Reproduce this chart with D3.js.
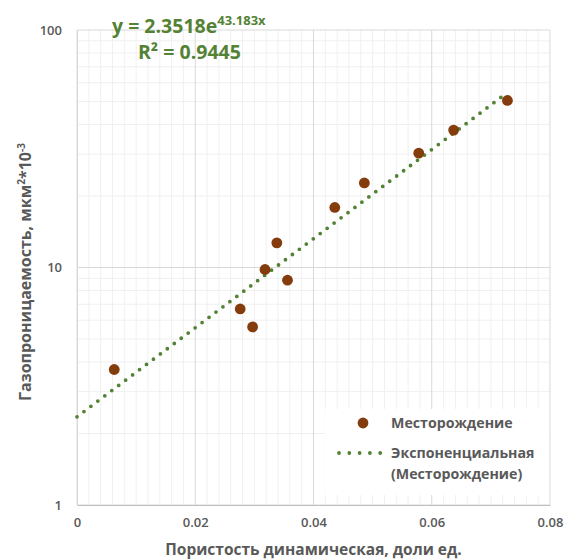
<!DOCTYPE html>
<html>
<head>
<meta charset="utf-8">
<script src="https://cdn.jsdelivr.net/npm/d3@7"></script>
<style>
  html, body { margin: 0; padding: 0; background: #fff; }
  svg { display: block; font-family: "Open Sans", "Noto Sans", sans-serif; }
</style>
</head>
<body>
<svg id="chart" width="565" height="560"></svg>
<script>
// Dynamic porosity (fraction) vs gas permeability (mkm^2 * 10^-3)
const porosity = [0.0063, 0.0276, 0.0297, 0.0318, 0.0338, 0.0356, 0.0436, 0.0486, 0.0578, 0.0637, 0.0728];
const permeability = [3.72, 6.69, 5.62, 9.81, 12.7, 8.84, 17.9, 22.7, 30.3, 37.9, 50.5];

// Exponential trend y = a * e^(b x)
const trendA = 2.3518;
const trendB = 43.183;
const rSquared = 0.9445;

const xTicks = [0, 0.02, 0.04, 0.06, 0.08];
const xTickLabels = ["0", "0.02", "0.04", "0.06", "0.08"];
const yTicks = [1, 10, 100];
const yTickLabels = ["1", "10", "100"];

const seriesName = "Месторождение";
const trendName1 = "Экспоненциальная";
const trendName2 = "(Месторождение)";
const xTitle = "Пористость динамическая, доли ед.";

const pointColor = "#843C0C";
const trendColor = "#548235";
const textGray = "#595959";

const svg = d3.select("#chart");
const margin = { left: 77, right: 15, top: 30, bottom: 55 };
const W = 565, H = 560;

const x = d3.scaleLinear().domain([0, 0.08]).range([margin.left, W - margin.right]);
const y = d3.scaleLog().domain([1, 100]).range([H - margin.bottom, margin.top]);

const grid = svg.append("g");
// minor vertical gridlines every 0.002
const xMinor = d3.range(0, 0.0801, 0.002).filter(v => Math.abs(v / 0.02 - Math.round(v / 0.02)) > 1e-6);
grid.selectAll(".xm").data(xMinor).join("line")
  .attr("x1", d => x(d)).attr("x2", d => x(d))
  .attr("y1", y(1)).attr("y2", y(100))
  .attr("stroke", "#f0f0f0").attr("stroke-width", 1);
// minor horizontal gridlines 2..9 per decade
const yMinor = [];
[1, 10].forEach(b => { for (let k = 2; k <= 9; k++) yMinor.push(b * k); });
grid.selectAll(".ym").data(yMinor).join("line")
  .attr("x1", x(0)).attr("x2", x(0.08))
  .attr("y1", d => y(d)).attr("y2", d => y(d))
  .attr("stroke", "#f0f0f0").attr("stroke-width", 1);
// major gridlines
grid.selectAll(".xM").data(xTicks).join("line")
  .attr("x1", d => x(d)).attr("x2", d => x(d))
  .attr("y1", y(1)).attr("y2", y(100))
  .attr("stroke", "#d9d9d9").attr("stroke-width", 1);
grid.selectAll(".yM").data(yTicks).join("line")
  .attr("x1", x(0)).attr("x2", x(0.08))
  .attr("y1", d => y(d)).attr("y2", d => y(d))
  .attr("stroke", "#d9d9d9").attr("stroke-width", 1);

// axes (labels only)
const xAxis = d3.axisBottom(x).tickValues(xTicks).tickFormat((d, i) => xTickLabels[i]).tickSize(0).tickPadding(13);
const gx = svg.append("g").attr("transform", `translate(0,${y(1)})`).call(xAxis);
gx.select(".domain").attr("stroke", "#bfbfbf");
gx.selectAll("text").attr("fill", textGray).attr("font-size", 13).attr("font-family", "Open Sans").attr("font-weight", 600);

const yAxis = d3.axisLeft(y).tickValues(yTicks).tickFormat((d, i) => yTickLabels[i]).tickSize(0).tickPadding(15);
const gy = svg.append("g").attr("transform", `translate(${x(0)},0)`).call(yAxis);
gy.select(".domain").attr("stroke", "#d9d9d9");
gy.selectAll("text").attr("fill", textGray).attr("font-size", 13).attr("font-family", "Open Sans").attr("font-weight", 600);

// legend background
const lg = svg.append("g");
lg.append("rect").attr("x", 325).attr("y", 409).attr("width", 224).attr("height", 86).attr("fill", "#fff");

// trend line
const xMaxData = d3.max(porosity);
const trendX = d3.range(0, xMaxData, xMaxData / 200).concat([xMaxData]);
const line = d3.line().x(d => x(d)).y(d => y(trendA * Math.exp(trendB * d)));
svg.append("path").datum(trendX).attr("d", line)
  .attr("fill", "none").attr("stroke", trendColor).attr("stroke-width", 3.8)
  .attr("stroke-linecap", "round").attr("stroke-dasharray", "0 8.7");

// points
svg.append("g").selectAll("circle").data(porosity).join("circle")
  .attr("cx", d => x(d)).attr("cy", (d, i) => y(permeability[i]))
  .attr("r", 5.4).attr("fill", pointColor);

// legend entries
lg.append("circle").attr("cx", 363).attr("cy", 423).attr("r", 5.4).attr("fill", pointColor);
lg.append("text").attr("x", 391).attr("y", 428).text(seriesName);
lg.append("line").attr("x1", 339).attr("x2", 381).attr("y1", 453).attr("y2", 453)
  .attr("stroke", trendColor).attr("stroke-width", 3.8).attr("stroke-linecap", "round").attr("stroke-dasharray", "0 10.3");
lg.append("text").attr("x", 391).attr("y", 458).text(trendName1);
lg.append("text").attr("x", 391).attr("y", 479).text(trendName2);
lg.selectAll("text").attr("fill", textGray).attr("font-size", 14.2).attr("font-weight", 700);

// equation label
const eq = svg.append("text").attr("x", 112).attr("y", 33).attr("fill", trendColor).attr("font-weight", 700).attr("font-size", 19.5);
eq.append("tspan").text("y = " + trendA + "e");
eq.append("tspan").attr("dy", -8).attr("font-size", 13).text(String(trendB) + "x");
svg.append("text").attr("x", 138).attr("y", 59).attr("fill", trendColor).attr("font-weight", 700).attr("font-size", 19.5)
  .text("R² = " + rSquared);

// axis titles
svg.append("text").attr("x", x(0.04)).attr("y", 555).attr("text-anchor", "middle")
  .attr("fill", textGray).attr("font-weight", 700).attr("font-size", 15.5).text(xTitle);

const yt = svg.append("text").attr("transform", `translate(31,272) rotate(-90)`)
  .attr("text-anchor", "middle").attr("fill", textGray).attr("font-weight", 700).attr("font-size", 16);
yt.append("tspan").text("Газопроницаемость, мкм");
yt.append("tspan").attr("dy", -6).attr("font-size", 10).text("2");
yt.append("tspan").attr("dy", 6).text("*10");
yt.append("tspan").attr("dy", -6).attr("font-size", 10).text("-3");
</script>
</body>
</html>
